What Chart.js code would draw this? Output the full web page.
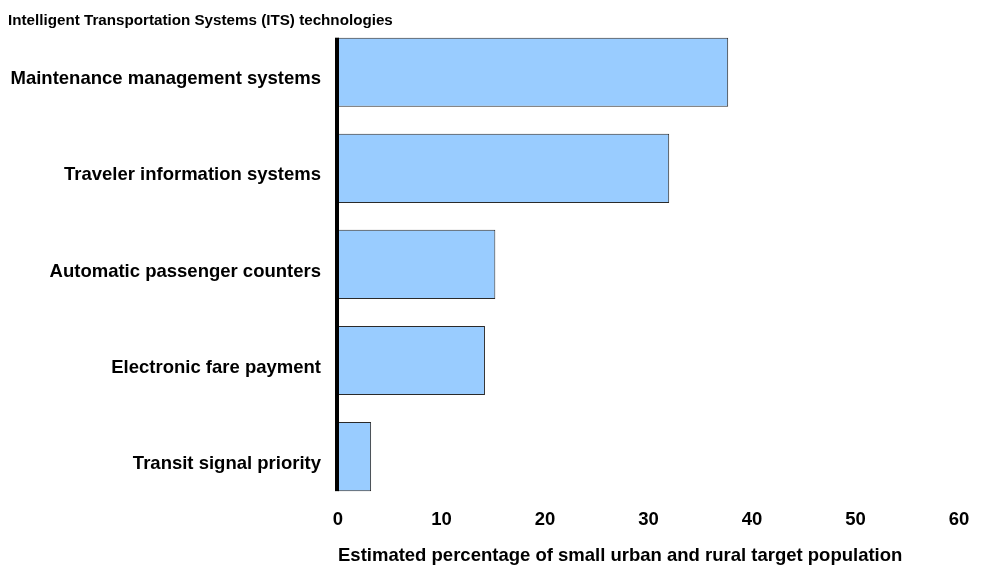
<!DOCTYPE html>
<html>
<head>
<meta charset="utf-8">
<script src="https://cdn.jsdelivr.net/npm/chart.js@4"></script>
<style>
  html, body { margin: 0; padding: 0; background: #fff; }
  #wrap { width: 983px; height: 567px; }
</style>
</head>
<body>
<div id="wrap"><canvas id="itsChart"></canvas></div>
<script>
const categories = [
    'Maintenance management systems',
    'Traveler information systems',
    'Automatic passenger counters',
    'Electronic fare payment',
    'Transit signal priority'
];
const percentages = [37.7, 32.0, 15.2, 14.2, 3.2];
const xTicks = [0, 10, 20, 30, 40, 50, 60];

// thick black axis line drawn only over the span of the bars
const axisLine = {
    id: 'axisLine',
    afterDatasetsDraw(chart) {
        const bars = chart.getDatasetMeta(0).data;
        const first = bars[0], last = bars[bars.length - 1];
        const x = chart.scales.x.getPixelForValue(0);
        const top = first.y - first.height / 2;
        const bottom = last.y + last.height / 2;
        const ctx = chart.ctx;
        ctx.save();
        ctx.fillStyle = '#000';
        ctx.fillRect(x - 3, top, 4, bottom - top);
        ctx.restore();
    }
};

document.addEventListener("DOMContentLoaded", function() {
    const ctx = document.getElementById("itsChart").getContext("2d");
    Chart.defaults.font.family = "'Liberation Sans', Arial, sans-serif";
    Chart.defaults.color = '#000';

    new Chart(ctx, {
        type: 'bar',
        data: {
            labels: categories,
            datasets: [{
                data: percentages,
                backgroundColor: '#99CCFF',
                borderColor: '#2a2a2a',
                borderWidth: 1,
                barPercentage: 0.72,
                categoryPercentage: 1
            }]
        },
        options: {
            indexAxis: 'y',
            responsive: true,
            maintainAspectRatio: false,
            animation: false,
            layout: { padding: { left: 8, right: 24, bottom: 0 } },
            plugins: {
                legend: { display: false },
                tooltip: { enabled: false },
                title: {
                    display: true,
                    text: 'Intelligent Transportation Systems (ITS) technologies',
                    align: 'start',
                    font: { size: 15.2, weight: 'bold' },
                    padding: { top: 12, bottom: -6 }
                }
            },
            scales: {
                x: {
                    min: 0,
                    max: 60,
                    afterBuildTicks(axis) { axis.ticks = xTicks.map(v => ({ value: v })); },
                    grid: { display: false, drawTicks: false },
                    border: { display: false },
                    ticks: { font: { size: 18.5, weight: 'bold' }, padding: 4 },
                    title: {
                        display: true,
                        align: 'start',
                        text: 'Estimated percentage of small urban and rural target population',
                        font: { size: 18.5, weight: 'bold' },
                        padding: { top: 10, bottom: 0 }
                    }
                },
                y: {
                    afterFit(axis) {
                        axis.width = 330;
                        axis.paddingTop = 0;
                        axis.paddingBottom = 0;
                    },
                    grid: { display: false, drawTicks: false },
                    border: { display: false },
                    ticks: { font: { size: 18.5, weight: 'bold' }, padding: 17, labelOffset: 7 }
                }
            }
        },
        plugins: [axisLine]
    });
});
</script>
</body>
</html>
